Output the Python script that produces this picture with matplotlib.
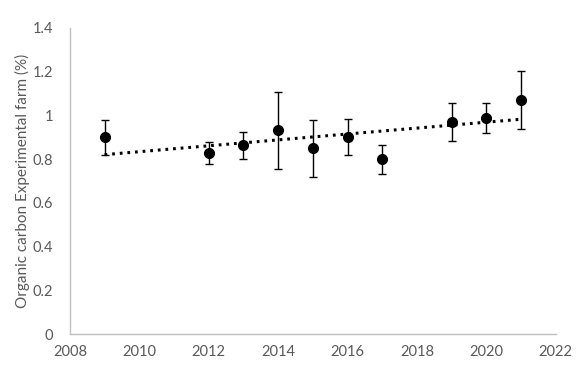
import matplotlib.pyplot as plt
import numpy as np
from matplotlib.ticker import FuncFormatter

years = [2009, 2012, 2013, 2014, 2015, 2016, 2017, 2019, 2020, 2021]
carbon = [0.90, 0.827, 0.863, 0.933, 0.849, 0.90, 0.80, 0.968, 0.988, 1.07]
err = [0.08, 0.05, 0.062, 0.176, 0.129, 0.082, 0.066, 0.087, 0.07, 0.134]

x_ticks = np.arange(2008, 2023, 2)
y_ticks = np.arange(0, 1.41, 0.2)

plt.rcParams['font.family'] = ['Lato', 'DejaVu Sans']

fig = plt.figure(figsize=(5.82, 3.68), dpi=100)
ax = fig.add_axes([0.12, 0.092, 0.835, 0.832])

# linear trendline (Excel style)
slope, intercept = np.polyfit(years, carbon, 1)
xt = np.array([years[0], years[-1]])
ax.plot(xt, slope * xt + intercept, color='black', lw=2.2,
        linestyle=(0, (0.9, 1.6)), zorder=2)

ax.errorbar(years, carbon, yerr=err, fmt='o', color='black', ms=7,
            ecolor='black', elinewidth=1, capsize=3, capthick=1, zorder=3)

ax.set_xlim(2008, 2022)
ax.set_ylim(0, 1.4)
ax.set_xticks(x_ticks)
ax.set_yticks(y_ticks)
ax.yaxis.set_major_formatter(FuncFormatter(lambda v, p: '%g' % round(v, 1)))
ax.tick_params(length=0, labelsize=10.5, colors='#595959', pad=8)
ax.tick_params(axis='y', pad=12)
for s in ['top', 'right']:
    ax.spines[s].set_visible(False)
for s in ['left', 'bottom']:
    ax.spines[s].set_color('#bfbfbf')
    ax.spines[s].set_linewidth(1)
ax.set_ylabel('Organic carbon Experimental farm (%)', fontsize=11, color='#595959', labelpad=2)

fig.savefig('out.png', dpi=100)
